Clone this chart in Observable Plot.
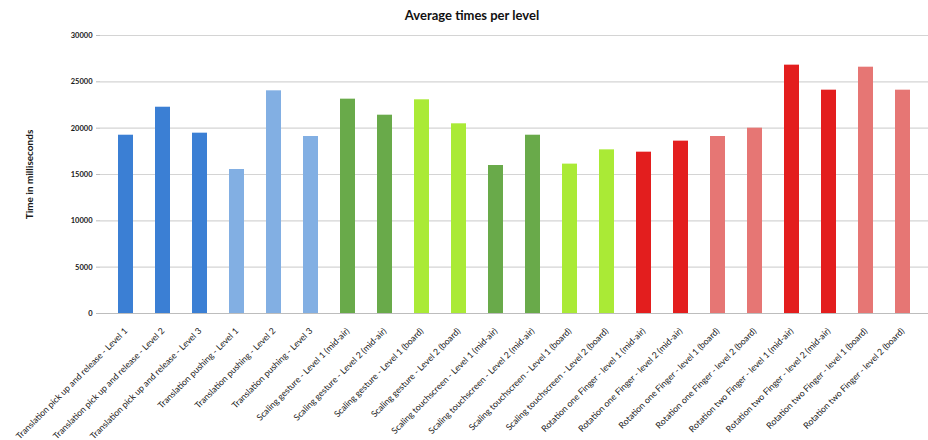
<!DOCTYPE html>
<html><head><meta charset="utf-8">
<script src="https://cdn.jsdelivr.net/npm/d3@7"></script>
<script src="https://cdn.jsdelivr.net/npm/@observablehq/plot@0.6"></script>
<style>
body{margin:0;background:#fff;font-family:Lato,"Open Sans",sans-serif;}
#title{width:928px;height:28px;line-height:30px;font-weight:bold;font-size:13px;text-align:center;box-sizing:border-box;padding-left:16px;color:#111;}
#chart svg{display:block;}
</style>
</head><body>
<div id="title">Average times per level</div>
<div id="chart"></div>
<script>
const labels = [
  "Translation pick up and release - Level 1",
  "Translation pick up and release - Level 2",
  "Translation pick up and release - Level 3",
  "Translation pushing - Level 1",
  "Translation pushing - Level 2",
  "Translation pushing - Level 3",
  "Scaling gesture - Level 1 (mid-air)",
  "Scaling gesture - Level 2 (mid-air)",
  "Scaling gesture - Level 1 (board)",
  "Scaling gesture - Level 2 (board)",
  "Scaling touchscreen - Level 1 (mid-air)",
  "Scaling touchscreen - Level 2 (mid-air)",
  "Scaling touchscreen - Level 1 (board)",
  "Scaling touchscreen - Level 2 (board)",
  "Rotation one Finger - level 1 (mid-air)",
  "Rotation one Finger - level 2 (mid-air)",
  "Rotation one Finger - level 1 (board)",
  "Rotation one Finger - level 2 (board)",
  "Rotation two Finger - level 1 (mid-air)",
  "Rotation two Finger - level 2 (mid-air)",
  "Rotation two Finger - level 1 (board)",
  "Rotation two Finger - level 2 (board)"
];
const times = [19240, 22260, 19460, 15540, 24030, 19100, 23130, 21400, 23060, 20470, 15970,
               19240, 16120, 17660, 17410, 18600, 19100, 20000, 26800, 24100, 26580, 24100];
const groups = [
  "Translation pick up", "Translation pick up", "Translation pick up",
  "Translation pushing", "Translation pushing", "Translation pushing",
  "Scaling mid-air", "Scaling mid-air", "Scaling board", "Scaling board",
  "Scaling mid-air", "Scaling mid-air", "Scaling board", "Scaling board",
  "Rotation mid-air", "Rotation mid-air", "Rotation board", "Rotation board",
  "Rotation mid-air", "Rotation mid-air", "Rotation board", "Rotation board"
];
const groupNames = ["Translation pick up", "Translation pushing", "Scaling mid-air", "Scaling board", "Rotation mid-air", "Rotation board"];
const groupColors = ["#3b7fd4", "#82afe3", "#69aa4a", "#aaea36", "#e31e1e", "#e67674"];
const yTicks = [0, 5000, 10000, 15000, 20000, 25000, 30000];

const data = labels.map((l, i) => ({label: l, time: times[i], group: groups[i]}));

const chart = Plot.plot({
  width: 928,
  height: 412,
  marginTop: 7,
  marginBottom: 127,
  marginLeft: 100,
  marginRight: 0,
  style: {fontFamily: "Lato, 'Open Sans', sans-serif", color: "#1a1a1a", background: "#fff"},
  x: {domain: labels, paddingInner: 0.59, paddingOuter: 0.295},
  y: {domain: [0, 30000]},
  color: {type: "ordinal", domain: groupNames, range: groupColors},
  marks: [
    Plot.gridY(yTicks, {stroke: "#d4d4d4", strokeOpacity: 1, strokeWidth: 1.2}),
    Plot.barY(data, {x: "label", y: "time", fill: "group"}),
    Plot.ruleY([0], {stroke: "#bdbdbd"}),
    Plot.ruleX([0], {frameAnchor: "left", stroke: "#bdbdbd"}),
    Plot.axisY({ticks: yTicks, tickFormat: d3.format("d"), tickSize: 4, tickPadding: 4,
      fontSize: 7.5, fontWeight: "bold", stroke: "#bdbdbd",
      label: "Time in milliseconds", labelAnchor: "center", labelOffset: 75, labelArrow: "none"}),
    Plot.axisX({tickRotate: -45, tickSize: 0, tickPadding: 16, fontSize: 8.8, label: null})
  ]
});
chart.querySelectorAll("[aria-label='y-axis label'] text, [aria-label='y-axis label']").forEach(e => {
  e.setAttribute("font-weight", "bold"); e.setAttribute("font-size", "10");
});
document.getElementById("chart").append(chart);
</script>
</body></html>
